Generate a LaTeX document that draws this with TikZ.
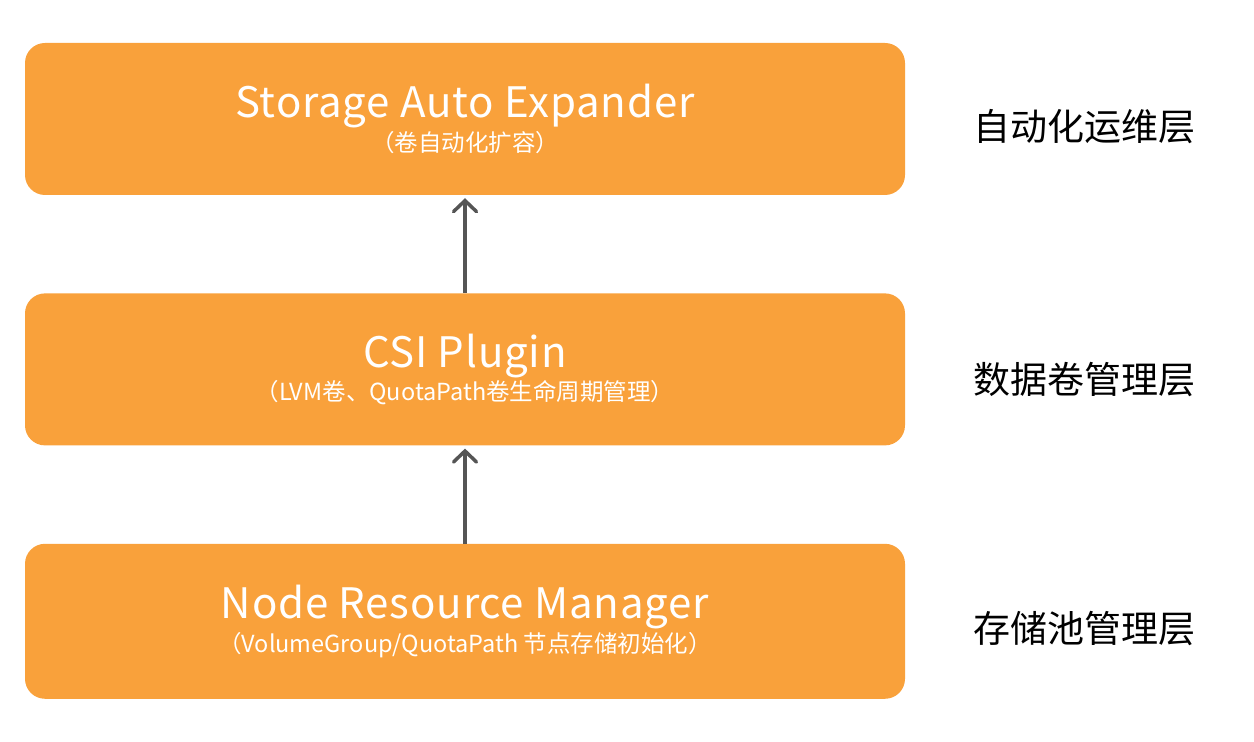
\documentclass[tikz,border=0pt]{standalone}
\usepackage{fontspec}
\setmainfont{Noto Sans CJK SC}
\newfontfamily\titlefont[LetterSpace=2]{Noto Sans CJK SC}
\usepackage{tikz}
\usetikzlibrary{arrows.meta}
\usetikzlibrary{positioning}

\definecolor{layerorange}{HTML}{F9A13B}
\definecolor{arrowgray}{HTML}{555555}

\tikzset{
    layerbox/.style={fill=layerorange, draw=none, rounded corners=20pt,
        minimum width=880pt, minimum height=152pt, inner sep=0pt,
        text=white, align=center},
    layername/.style={anchor=west, font=\fontsize{37}{44}\selectfont, text=black},
    uparrow/.style={-{Straight Barb[length=11pt, width=23pt, line cap=round]},
        line width=3.5pt, arrowgray, shorten >=3pt}
}

\newcommand{\boxtext}[2]{{\titlefont\fontsize{42}{48}\selectfont #1}\\[2pt]{\fontsize{23.5}{28}\selectfont #2}}

\begin{document}
\begin{tikzpicture}[x=1pt, y=1pt]
    \useasboundingbox (0,0) rectangle (1254,742);

    % Layer boxes
    \node[layerbox] (expander) at (465,623) {\boxtext{Storage Auto Expander}{（卷自动化扩容）}};
    \node[layerbox, below=98pt of expander] (csi) {\boxtext{CSI Plugin}{（LVM卷、QuotaPath卷生命周期管理）}};
    \node[layerbox, below=98pt of csi, minimum height=155pt] (nrm) {\boxtext{Node Resource Manager}{（VolumeGroup/QuotaPath 节点存储初始化）}};

    % Arrows between layers
    \draw[uparrow] (csi.north) -- (expander.south);
    \draw[uparrow] (nrm.north) -- (csi.south);

    % Layer names on the right
    \node[layername] (opslayer) at (970,615) {自动化运维层};
    \node[layername] (vollayer) at (970,362) {数据卷管理层};
    \node[layername] (poollayer) at (970,113) {存储池管理层};
\end{tikzpicture}
\end{document}
